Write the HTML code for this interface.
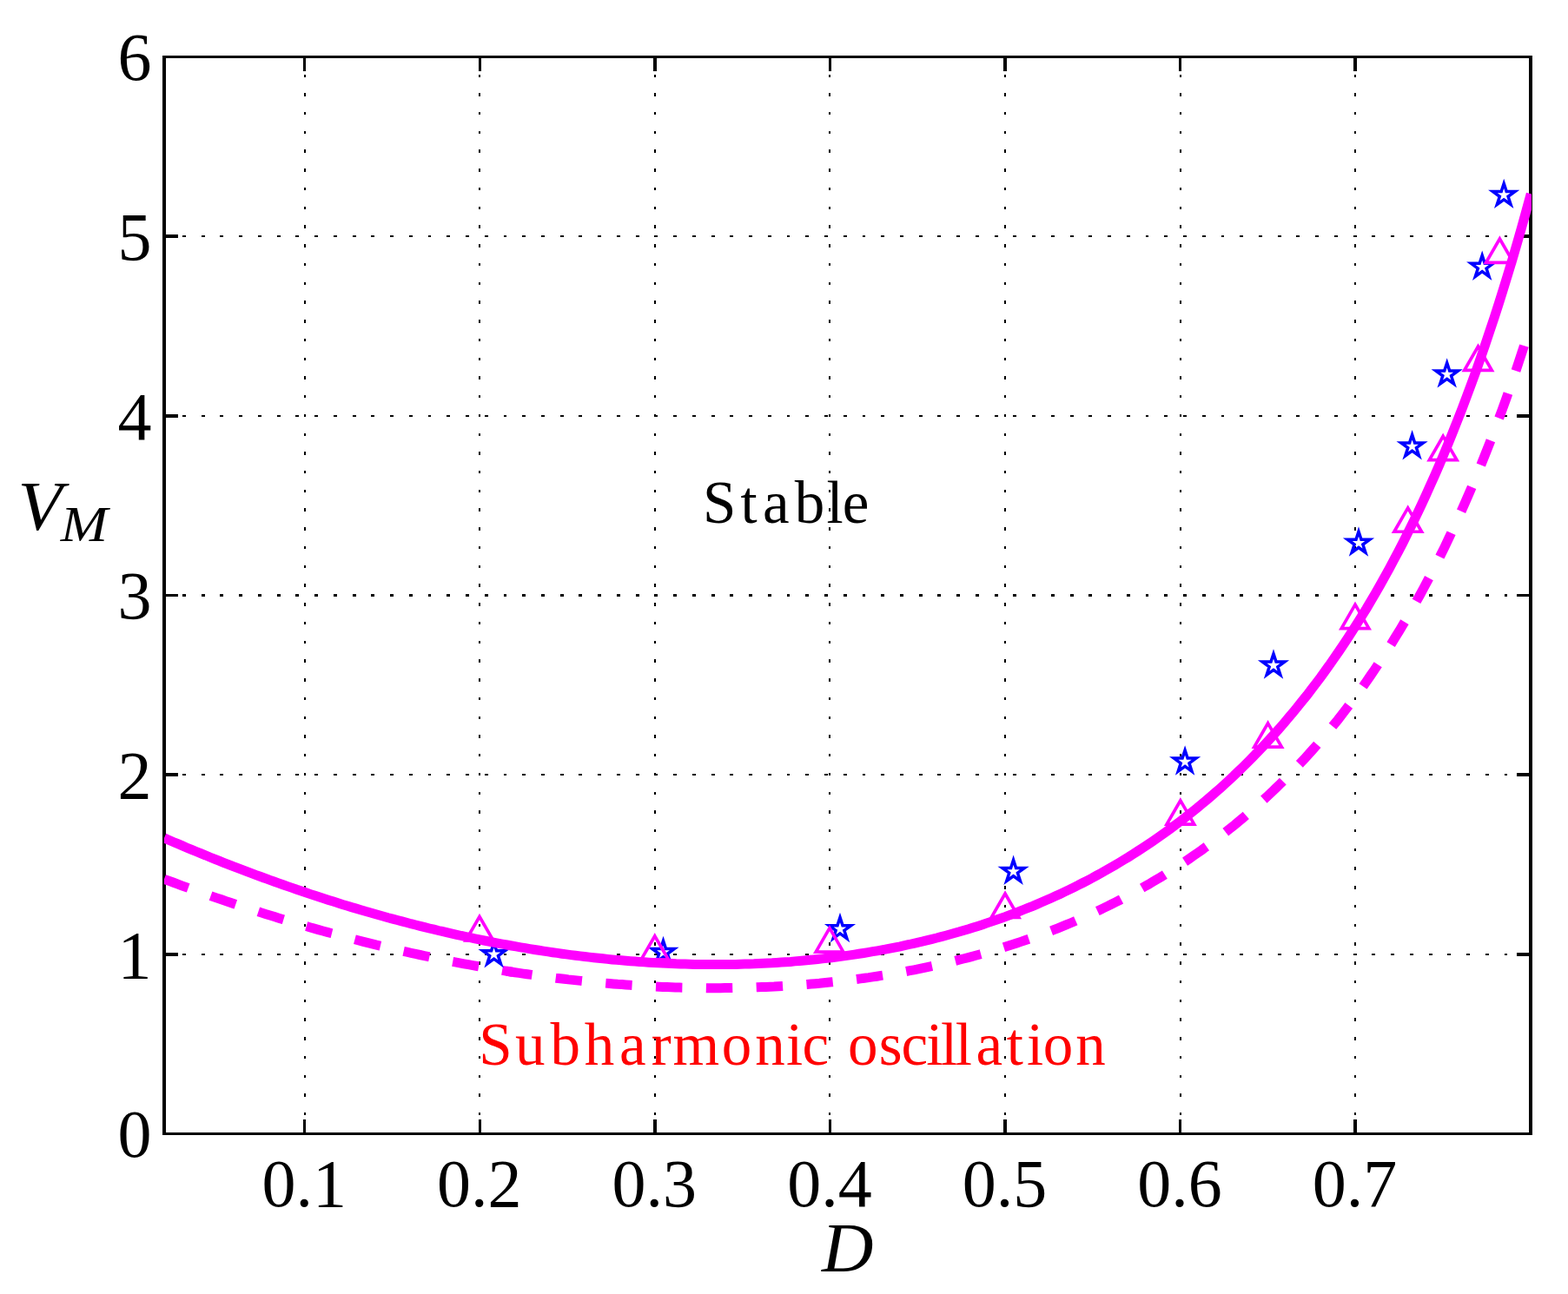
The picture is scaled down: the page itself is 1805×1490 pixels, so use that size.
<!DOCTYPE html>
<html><head><meta charset="utf-8"><title>V_M versus D</title>
<style>html,body{margin:0;padding:0;background:#fff}body{width:1805px;height:1490px;overflow:hidden}svg{display:block}text{font-family:"Liberation Serif","DejaVu Serif",serif}</style></head><body>
<svg width="1805" height="1490" viewBox="0 0 1805 1490">
<rect width="1805" height="1490" fill="#fff"/>
<text x="808.99 852.58 877.95 914.86 951.56 969.79" y="602.30" font-size="69.00" fill="#000">Stable</text>
<g fill="#000" shape-rendering="crispEdges"><rect x="187" y="64" width="4" height="1243"/><rect x="1760" y="64" width="4" height="1243"/><rect x="187" y="64" width="1577" height="3"/><rect x="187" y="1304" width="1577" height="3"/><rect x="349" y="1289" width="3" height="15"/><rect x="349" y="67" width="3" height="15"/><rect x="551" y="1289" width="3" height="15"/><rect x="551" y="67" width="3" height="15"/><rect x="752" y="1289" width="4" height="15"/><rect x="752" y="67" width="4" height="15"/><rect x="954" y="1289" width="3" height="15"/><rect x="954" y="67" width="3" height="15"/><rect x="1155" y="1289" width="4" height="15"/><rect x="1155" y="67" width="4" height="15"/><rect x="1357" y="1289" width="3" height="15"/><rect x="1357" y="67" width="3" height="15"/><rect x="1558" y="1289" width="4" height="15"/><rect x="1558" y="67" width="4" height="15"/><rect x="191" y="1097" width="14" height="4"/><rect x="1746" y="1097" width="14" height="4"/><rect x="191" y="890" width="14" height="4"/><rect x="1746" y="890" width="14" height="4"/><rect x="191" y="684" width="14" height="3"/><rect x="1746" y="684" width="14" height="3"/><rect x="191" y="477" width="14" height="4"/><rect x="1746" y="477" width="14" height="4"/><rect x="191" y="270" width="14" height="4"/><rect x="1746" y="270" width="14" height="4"/></g>
<g fill="#000" shape-rendering="crispEdges"><rect x="350" y="86" width="2" height="3"/><rect x="350" y="107" width="2" height="4"/><rect x="350" y="129" width="2" height="3"/><rect x="350" y="151" width="2" height="3"/><rect x="350" y="172" width="2" height="4"/><rect x="350" y="194" width="2" height="4"/><rect x="350" y="216" width="2" height="3"/><rect x="350" y="238" width="2" height="3"/><rect x="350" y="259" width="2" height="4"/><rect x="350" y="281" width="2" height="4"/><rect x="350" y="303" width="2" height="3"/><rect x="350" y="325" width="2" height="3"/><rect x="350" y="346" width="2" height="4"/><rect x="350" y="368" width="2" height="4"/><rect x="350" y="390" width="2" height="3"/><rect x="350" y="412" width="2" height="3"/><rect x="350" y="433" width="2" height="4"/><rect x="350" y="455" width="2" height="3"/><rect x="350" y="477" width="2" height="3"/><rect x="350" y="499" width="2" height="3"/><rect x="350" y="520" width="2" height="4"/><rect x="350" y="542" width="2" height="3"/><rect x="350" y="564" width="2" height="3"/><rect x="350" y="585" width="2" height="4"/><rect x="350" y="607" width="2" height="4"/><rect x="350" y="629" width="2" height="3"/><rect x="350" y="651" width="2" height="3"/><rect x="350" y="672" width="2" height="4"/><rect x="350" y="694" width="2" height="4"/><rect x="350" y="716" width="2" height="3"/><rect x="350" y="738" width="2" height="3"/><rect x="350" y="759" width="2" height="4"/><rect x="350" y="781" width="2" height="4"/><rect x="350" y="803" width="2" height="3"/><rect x="350" y="825" width="2" height="3"/><rect x="350" y="846" width="2" height="4"/><rect x="350" y="868" width="2" height="3"/><rect x="350" y="890" width="2" height="3"/><rect x="350" y="912" width="2" height="3"/><rect x="350" y="933" width="2" height="4"/><rect x="350" y="955" width="2" height="3"/><rect x="350" y="977" width="2" height="3"/><rect x="350" y="998" width="2" height="4"/><rect x="350" y="1020" width="2" height="4"/><rect x="350" y="1042" width="2" height="3"/><rect x="350" y="1064" width="2" height="3"/><rect x="350" y="1085" width="2" height="4"/><rect x="350" y="1107" width="2" height="4"/><rect x="350" y="1129" width="2" height="3"/><rect x="350" y="1151" width="2" height="3"/><rect x="350" y="1172" width="2" height="4"/><rect x="350" y="1194" width="2" height="4"/><rect x="350" y="1216" width="2" height="3"/><rect x="350" y="1238" width="2" height="3"/><rect x="350" y="1259" width="2" height="4"/><rect x="350" y="1281" width="2" height="3"/><rect x="551" y="86" width="2" height="3"/><rect x="551" y="107" width="2" height="4"/><rect x="551" y="129" width="2" height="3"/><rect x="551" y="151" width="2" height="3"/><rect x="551" y="172" width="2" height="4"/><rect x="551" y="194" width="2" height="4"/><rect x="551" y="216" width="2" height="3"/><rect x="551" y="238" width="2" height="3"/><rect x="551" y="259" width="2" height="4"/><rect x="551" y="281" width="2" height="4"/><rect x="551" y="303" width="2" height="3"/><rect x="551" y="325" width="2" height="3"/><rect x="551" y="346" width="2" height="4"/><rect x="551" y="368" width="2" height="4"/><rect x="551" y="390" width="2" height="3"/><rect x="551" y="412" width="2" height="3"/><rect x="551" y="433" width="2" height="4"/><rect x="551" y="455" width="2" height="3"/><rect x="551" y="477" width="2" height="3"/><rect x="551" y="499" width="2" height="3"/><rect x="551" y="520" width="2" height="4"/><rect x="551" y="542" width="2" height="3"/><rect x="551" y="564" width="2" height="3"/><rect x="551" y="585" width="2" height="4"/><rect x="551" y="607" width="2" height="4"/><rect x="551" y="629" width="2" height="3"/><rect x="551" y="651" width="2" height="3"/><rect x="551" y="672" width="2" height="4"/><rect x="551" y="694" width="2" height="4"/><rect x="551" y="716" width="2" height="3"/><rect x="551" y="738" width="2" height="3"/><rect x="551" y="759" width="2" height="4"/><rect x="551" y="781" width="2" height="4"/><rect x="551" y="803" width="2" height="3"/><rect x="551" y="825" width="2" height="3"/><rect x="551" y="846" width="2" height="4"/><rect x="551" y="868" width="2" height="3"/><rect x="551" y="890" width="2" height="3"/><rect x="551" y="912" width="2" height="3"/><rect x="551" y="933" width="2" height="4"/><rect x="551" y="955" width="2" height="3"/><rect x="551" y="977" width="2" height="3"/><rect x="551" y="998" width="2" height="4"/><rect x="551" y="1020" width="2" height="4"/><rect x="551" y="1042" width="2" height="3"/><rect x="551" y="1064" width="2" height="3"/><rect x="551" y="1085" width="2" height="4"/><rect x="551" y="1107" width="2" height="4"/><rect x="551" y="1129" width="2" height="3"/><rect x="551" y="1151" width="2" height="3"/><rect x="551" y="1172" width="2" height="4"/><rect x="551" y="1194" width="2" height="4"/><rect x="551" y="1216" width="2" height="3"/><rect x="551" y="1238" width="2" height="3"/><rect x="551" y="1259" width="2" height="4"/><rect x="551" y="1281" width="2" height="3"/><rect x="753" y="86" width="2" height="3"/><rect x="753" y="107" width="2" height="4"/><rect x="753" y="129" width="2" height="3"/><rect x="753" y="151" width="2" height="3"/><rect x="753" y="172" width="2" height="4"/><rect x="753" y="194" width="2" height="4"/><rect x="753" y="216" width="2" height="3"/><rect x="753" y="238" width="2" height="3"/><rect x="753" y="259" width="2" height="4"/><rect x="753" y="281" width="2" height="4"/><rect x="753" y="303" width="2" height="3"/><rect x="753" y="325" width="2" height="3"/><rect x="753" y="346" width="2" height="4"/><rect x="753" y="368" width="2" height="4"/><rect x="753" y="390" width="2" height="3"/><rect x="753" y="412" width="2" height="3"/><rect x="753" y="433" width="2" height="4"/><rect x="753" y="455" width="2" height="3"/><rect x="753" y="477" width="2" height="3"/><rect x="753" y="499" width="2" height="3"/><rect x="753" y="520" width="2" height="4"/><rect x="753" y="542" width="2" height="3"/><rect x="753" y="564" width="2" height="3"/><rect x="753" y="585" width="2" height="4"/><rect x="753" y="607" width="2" height="4"/><rect x="753" y="629" width="2" height="3"/><rect x="753" y="651" width="2" height="3"/><rect x="753" y="672" width="2" height="4"/><rect x="753" y="694" width="2" height="4"/><rect x="753" y="716" width="2" height="3"/><rect x="753" y="738" width="2" height="3"/><rect x="753" y="759" width="2" height="4"/><rect x="753" y="781" width="2" height="4"/><rect x="753" y="803" width="2" height="3"/><rect x="753" y="825" width="2" height="3"/><rect x="753" y="846" width="2" height="4"/><rect x="753" y="868" width="2" height="3"/><rect x="753" y="890" width="2" height="3"/><rect x="753" y="912" width="2" height="3"/><rect x="753" y="933" width="2" height="4"/><rect x="753" y="955" width="2" height="3"/><rect x="753" y="977" width="2" height="3"/><rect x="753" y="998" width="2" height="4"/><rect x="753" y="1020" width="2" height="4"/><rect x="753" y="1042" width="2" height="3"/><rect x="753" y="1064" width="2" height="3"/><rect x="753" y="1085" width="2" height="4"/><rect x="753" y="1107" width="2" height="4"/><rect x="753" y="1129" width="2" height="3"/><rect x="753" y="1151" width="2" height="3"/><rect x="753" y="1172" width="2" height="4"/><rect x="753" y="1194" width="2" height="4"/><rect x="753" y="1216" width="2" height="3"/><rect x="753" y="1238" width="2" height="3"/><rect x="753" y="1259" width="2" height="4"/><rect x="753" y="1281" width="2" height="3"/><rect x="954" y="86" width="2" height="3"/><rect x="954" y="107" width="2" height="4"/><rect x="954" y="129" width="2" height="3"/><rect x="954" y="151" width="2" height="3"/><rect x="954" y="172" width="2" height="4"/><rect x="954" y="194" width="2" height="4"/><rect x="954" y="216" width="2" height="3"/><rect x="954" y="238" width="2" height="3"/><rect x="954" y="259" width="2" height="4"/><rect x="954" y="281" width="2" height="4"/><rect x="954" y="303" width="2" height="3"/><rect x="954" y="325" width="2" height="3"/><rect x="954" y="346" width="2" height="4"/><rect x="954" y="368" width="2" height="4"/><rect x="954" y="390" width="2" height="3"/><rect x="954" y="412" width="2" height="3"/><rect x="954" y="433" width="2" height="4"/><rect x="954" y="455" width="2" height="3"/><rect x="954" y="477" width="2" height="3"/><rect x="954" y="499" width="2" height="3"/><rect x="954" y="520" width="2" height="4"/><rect x="954" y="542" width="2" height="3"/><rect x="954" y="564" width="2" height="3"/><rect x="954" y="585" width="2" height="4"/><rect x="954" y="607" width="2" height="4"/><rect x="954" y="629" width="2" height="3"/><rect x="954" y="651" width="2" height="3"/><rect x="954" y="672" width="2" height="4"/><rect x="954" y="694" width="2" height="4"/><rect x="954" y="716" width="2" height="3"/><rect x="954" y="738" width="2" height="3"/><rect x="954" y="759" width="2" height="4"/><rect x="954" y="781" width="2" height="4"/><rect x="954" y="803" width="2" height="3"/><rect x="954" y="825" width="2" height="3"/><rect x="954" y="846" width="2" height="4"/><rect x="954" y="868" width="2" height="3"/><rect x="954" y="890" width="2" height="3"/><rect x="954" y="912" width="2" height="3"/><rect x="954" y="933" width="2" height="4"/><rect x="954" y="955" width="2" height="3"/><rect x="954" y="977" width="2" height="3"/><rect x="954" y="998" width="2" height="4"/><rect x="954" y="1020" width="2" height="4"/><rect x="954" y="1042" width="2" height="3"/><rect x="954" y="1064" width="2" height="3"/><rect x="954" y="1085" width="2" height="4"/><rect x="954" y="1107" width="2" height="4"/><rect x="954" y="1129" width="2" height="3"/><rect x="954" y="1151" width="2" height="3"/><rect x="954" y="1172" width="2" height="4"/><rect x="954" y="1194" width="2" height="4"/><rect x="954" y="1216" width="2" height="3"/><rect x="954" y="1238" width="2" height="3"/><rect x="954" y="1259" width="2" height="4"/><rect x="954" y="1281" width="2" height="3"/><rect x="1156" y="86" width="2" height="3"/><rect x="1156" y="107" width="2" height="4"/><rect x="1156" y="129" width="2" height="3"/><rect x="1156" y="151" width="2" height="3"/><rect x="1156" y="172" width="2" height="4"/><rect x="1156" y="194" width="2" height="4"/><rect x="1156" y="216" width="2" height="3"/><rect x="1156" y="238" width="2" height="3"/><rect x="1156" y="259" width="2" height="4"/><rect x="1156" y="281" width="2" height="4"/><rect x="1156" y="303" width="2" height="3"/><rect x="1156" y="325" width="2" height="3"/><rect x="1156" y="346" width="2" height="4"/><rect x="1156" y="368" width="2" height="4"/><rect x="1156" y="390" width="2" height="3"/><rect x="1156" y="412" width="2" height="3"/><rect x="1156" y="433" width="2" height="4"/><rect x="1156" y="455" width="2" height="3"/><rect x="1156" y="477" width="2" height="3"/><rect x="1156" y="499" width="2" height="3"/><rect x="1156" y="520" width="2" height="4"/><rect x="1156" y="542" width="2" height="3"/><rect x="1156" y="564" width="2" height="3"/><rect x="1156" y="585" width="2" height="4"/><rect x="1156" y="607" width="2" height="4"/><rect x="1156" y="629" width="2" height="3"/><rect x="1156" y="651" width="2" height="3"/><rect x="1156" y="672" width="2" height="4"/><rect x="1156" y="694" width="2" height="4"/><rect x="1156" y="716" width="2" height="3"/><rect x="1156" y="738" width="2" height="3"/><rect x="1156" y="759" width="2" height="4"/><rect x="1156" y="781" width="2" height="4"/><rect x="1156" y="803" width="2" height="3"/><rect x="1156" y="825" width="2" height="3"/><rect x="1156" y="846" width="2" height="4"/><rect x="1156" y="868" width="2" height="3"/><rect x="1156" y="890" width="2" height="3"/><rect x="1156" y="912" width="2" height="3"/><rect x="1156" y="933" width="2" height="4"/><rect x="1156" y="955" width="2" height="3"/><rect x="1156" y="977" width="2" height="3"/><rect x="1156" y="998" width="2" height="4"/><rect x="1156" y="1020" width="2" height="4"/><rect x="1156" y="1042" width="2" height="3"/><rect x="1156" y="1064" width="2" height="3"/><rect x="1156" y="1085" width="2" height="4"/><rect x="1156" y="1107" width="2" height="4"/><rect x="1156" y="1129" width="2" height="3"/><rect x="1156" y="1151" width="2" height="3"/><rect x="1156" y="1172" width="2" height="4"/><rect x="1156" y="1194" width="2" height="4"/><rect x="1156" y="1216" width="2" height="3"/><rect x="1156" y="1238" width="2" height="3"/><rect x="1156" y="1259" width="2" height="4"/><rect x="1156" y="1281" width="2" height="3"/><rect x="1358" y="86" width="2" height="3"/><rect x="1358" y="107" width="2" height="4"/><rect x="1358" y="129" width="2" height="3"/><rect x="1358" y="151" width="2" height="3"/><rect x="1358" y="172" width="2" height="4"/><rect x="1358" y="194" width="2" height="4"/><rect x="1358" y="216" width="2" height="3"/><rect x="1358" y="238" width="2" height="3"/><rect x="1358" y="259" width="2" height="4"/><rect x="1358" y="281" width="2" height="4"/><rect x="1358" y="303" width="2" height="3"/><rect x="1358" y="325" width="2" height="3"/><rect x="1358" y="346" width="2" height="4"/><rect x="1358" y="368" width="2" height="4"/><rect x="1358" y="390" width="2" height="3"/><rect x="1358" y="412" width="2" height="3"/><rect x="1358" y="433" width="2" height="4"/><rect x="1358" y="455" width="2" height="3"/><rect x="1358" y="477" width="2" height="3"/><rect x="1358" y="499" width="2" height="3"/><rect x="1358" y="520" width="2" height="4"/><rect x="1358" y="542" width="2" height="3"/><rect x="1358" y="564" width="2" height="3"/><rect x="1358" y="585" width="2" height="4"/><rect x="1358" y="607" width="2" height="4"/><rect x="1358" y="629" width="2" height="3"/><rect x="1358" y="651" width="2" height="3"/><rect x="1358" y="672" width="2" height="4"/><rect x="1358" y="694" width="2" height="4"/><rect x="1358" y="716" width="2" height="3"/><rect x="1358" y="738" width="2" height="3"/><rect x="1358" y="759" width="2" height="4"/><rect x="1358" y="781" width="2" height="4"/><rect x="1358" y="803" width="2" height="3"/><rect x="1358" y="825" width="2" height="3"/><rect x="1358" y="846" width="2" height="4"/><rect x="1358" y="868" width="2" height="3"/><rect x="1358" y="890" width="2" height="3"/><rect x="1358" y="912" width="2" height="3"/><rect x="1358" y="933" width="2" height="4"/><rect x="1358" y="955" width="2" height="3"/><rect x="1358" y="977" width="2" height="3"/><rect x="1358" y="998" width="2" height="4"/><rect x="1358" y="1020" width="2" height="4"/><rect x="1358" y="1042" width="2" height="3"/><rect x="1358" y="1064" width="2" height="3"/><rect x="1358" y="1085" width="2" height="4"/><rect x="1358" y="1107" width="2" height="4"/><rect x="1358" y="1129" width="2" height="3"/><rect x="1358" y="1151" width="2" height="3"/><rect x="1358" y="1172" width="2" height="4"/><rect x="1358" y="1194" width="2" height="4"/><rect x="1358" y="1216" width="2" height="3"/><rect x="1358" y="1238" width="2" height="3"/><rect x="1358" y="1259" width="2" height="4"/><rect x="1358" y="1281" width="2" height="3"/><rect x="1559" y="86" width="2" height="3"/><rect x="1559" y="107" width="2" height="4"/><rect x="1559" y="129" width="2" height="3"/><rect x="1559" y="151" width="2" height="3"/><rect x="1559" y="172" width="2" height="4"/><rect x="1559" y="194" width="2" height="4"/><rect x="1559" y="216" width="2" height="3"/><rect x="1559" y="238" width="2" height="3"/><rect x="1559" y="259" width="2" height="4"/><rect x="1559" y="281" width="2" height="4"/><rect x="1559" y="303" width="2" height="3"/><rect x="1559" y="325" width="2" height="3"/><rect x="1559" y="346" width="2" height="4"/><rect x="1559" y="368" width="2" height="4"/><rect x="1559" y="390" width="2" height="3"/><rect x="1559" y="412" width="2" height="3"/><rect x="1559" y="433" width="2" height="4"/><rect x="1559" y="455" width="2" height="3"/><rect x="1559" y="477" width="2" height="3"/><rect x="1559" y="499" width="2" height="3"/><rect x="1559" y="520" width="2" height="4"/><rect x="1559" y="542" width="2" height="3"/><rect x="1559" y="564" width="2" height="3"/><rect x="1559" y="585" width="2" height="4"/><rect x="1559" y="607" width="2" height="4"/><rect x="1559" y="629" width="2" height="3"/><rect x="1559" y="651" width="2" height="3"/><rect x="1559" y="672" width="2" height="4"/><rect x="1559" y="694" width="2" height="4"/><rect x="1559" y="716" width="2" height="3"/><rect x="1559" y="738" width="2" height="3"/><rect x="1559" y="759" width="2" height="4"/><rect x="1559" y="781" width="2" height="4"/><rect x="1559" y="803" width="2" height="3"/><rect x="1559" y="825" width="2" height="3"/><rect x="1559" y="846" width="2" height="4"/><rect x="1559" y="868" width="2" height="3"/><rect x="1559" y="890" width="2" height="3"/><rect x="1559" y="912" width="2" height="3"/><rect x="1559" y="933" width="2" height="4"/><rect x="1559" y="955" width="2" height="3"/><rect x="1559" y="977" width="2" height="3"/><rect x="1559" y="998" width="2" height="4"/><rect x="1559" y="1020" width="2" height="4"/><rect x="1559" y="1042" width="2" height="3"/><rect x="1559" y="1064" width="2" height="3"/><rect x="1559" y="1085" width="2" height="4"/><rect x="1559" y="1107" width="2" height="4"/><rect x="1559" y="1129" width="2" height="3"/><rect x="1559" y="1151" width="2" height="3"/><rect x="1559" y="1172" width="2" height="4"/><rect x="1559" y="1194" width="2" height="4"/><rect x="1559" y="1216" width="2" height="3"/><rect x="1559" y="1238" width="2" height="3"/><rect x="1559" y="1259" width="2" height="4"/><rect x="1559" y="1281" width="2" height="3"/><rect x="210" y="1098" width="4" height="2"/><rect x="232" y="1098" width="4" height="2"/><rect x="253" y="1098" width="4" height="2"/><rect x="275" y="1098" width="4" height="2"/><rect x="297" y="1098" width="4" height="2"/><rect x="319" y="1098" width="4" height="2"/><rect x="340" y="1098" width="4" height="2"/><rect x="362" y="1098" width="4" height="2"/><rect x="384" y="1098" width="4" height="2"/><rect x="406" y="1098" width="4" height="2"/><rect x="427" y="1098" width="4" height="2"/><rect x="449" y="1098" width="4" height="2"/><rect x="471" y="1098" width="4" height="2"/><rect x="493" y="1098" width="3" height="2"/><rect x="514" y="1098" width="4" height="2"/><rect x="536" y="1098" width="4" height="2"/><rect x="558" y="1098" width="4" height="2"/><rect x="580" y="1098" width="3" height="2"/><rect x="601" y="1098" width="4" height="2"/><rect x="623" y="1098" width="4" height="2"/><rect x="645" y="1098" width="4" height="2"/><rect x="666" y="1098" width="4" height="2"/><rect x="688" y="1098" width="4" height="2"/><rect x="710" y="1098" width="4" height="2"/><rect x="732" y="1098" width="4" height="2"/><rect x="753" y="1098" width="4" height="2"/><rect x="775" y="1098" width="4" height="2"/><rect x="797" y="1098" width="4" height="2"/><rect x="819" y="1098" width="4" height="2"/><rect x="840" y="1098" width="4" height="2"/><rect x="862" y="1098" width="4" height="2"/><rect x="884" y="1098" width="4" height="2"/><rect x="906" y="1098" width="3" height="2"/><rect x="927" y="1098" width="4" height="2"/><rect x="949" y="1098" width="4" height="2"/><rect x="971" y="1098" width="4" height="2"/><rect x="993" y="1098" width="3" height="2"/><rect x="1014" y="1098" width="4" height="2"/><rect x="1036" y="1098" width="4" height="2"/><rect x="1058" y="1098" width="4" height="2"/><rect x="1079" y="1098" width="4" height="2"/><rect x="1101" y="1098" width="4" height="2"/><rect x="1123" y="1098" width="4" height="2"/><rect x="1145" y="1098" width="4" height="2"/><rect x="1166" y="1098" width="4" height="2"/><rect x="1188" y="1098" width="4" height="2"/><rect x="1210" y="1098" width="4" height="2"/><rect x="1232" y="1098" width="4" height="2"/><rect x="1253" y="1098" width="4" height="2"/><rect x="1275" y="1098" width="4" height="2"/><rect x="1297" y="1098" width="4" height="2"/><rect x="1319" y="1098" width="3" height="2"/><rect x="1340" y="1098" width="4" height="2"/><rect x="1362" y="1098" width="4" height="2"/><rect x="1384" y="1098" width="4" height="2"/><rect x="1406" y="1098" width="3" height="2"/><rect x="1427" y="1098" width="4" height="2"/><rect x="1449" y="1098" width="4" height="2"/><rect x="1471" y="1098" width="4" height="2"/><rect x="1492" y="1098" width="4" height="2"/><rect x="1514" y="1098" width="4" height="2"/><rect x="1536" y="1098" width="4" height="2"/><rect x="1558" y="1098" width="4" height="2"/><rect x="1579" y="1098" width="4" height="2"/><rect x="1601" y="1098" width="4" height="2"/><rect x="1623" y="1098" width="4" height="2"/><rect x="1645" y="1098" width="4" height="2"/><rect x="1666" y="1098" width="4" height="2"/><rect x="1688" y="1098" width="4" height="2"/><rect x="1710" y="1098" width="4" height="2"/><rect x="1732" y="1098" width="3" height="2"/><rect x="1753" y="1098" width="4" height="2"/><rect x="210" y="891" width="4" height="2"/><rect x="232" y="891" width="4" height="2"/><rect x="253" y="891" width="4" height="2"/><rect x="275" y="891" width="4" height="2"/><rect x="297" y="891" width="4" height="2"/><rect x="319" y="891" width="4" height="2"/><rect x="340" y="891" width="4" height="2"/><rect x="362" y="891" width="4" height="2"/><rect x="384" y="891" width="4" height="2"/><rect x="406" y="891" width="4" height="2"/><rect x="427" y="891" width="4" height="2"/><rect x="449" y="891" width="4" height="2"/><rect x="471" y="891" width="4" height="2"/><rect x="493" y="891" width="3" height="2"/><rect x="514" y="891" width="4" height="2"/><rect x="536" y="891" width="4" height="2"/><rect x="558" y="891" width="4" height="2"/><rect x="580" y="891" width="3" height="2"/><rect x="601" y="891" width="4" height="2"/><rect x="623" y="891" width="4" height="2"/><rect x="645" y="891" width="4" height="2"/><rect x="666" y="891" width="4" height="2"/><rect x="688" y="891" width="4" height="2"/><rect x="710" y="891" width="4" height="2"/><rect x="732" y="891" width="4" height="2"/><rect x="753" y="891" width="4" height="2"/><rect x="775" y="891" width="4" height="2"/><rect x="797" y="891" width="4" height="2"/><rect x="819" y="891" width="4" height="2"/><rect x="840" y="891" width="4" height="2"/><rect x="862" y="891" width="4" height="2"/><rect x="884" y="891" width="4" height="2"/><rect x="906" y="891" width="3" height="2"/><rect x="927" y="891" width="4" height="2"/><rect x="949" y="891" width="4" height="2"/><rect x="971" y="891" width="4" height="2"/><rect x="993" y="891" width="3" height="2"/><rect x="1014" y="891" width="4" height="2"/><rect x="1036" y="891" width="4" height="2"/><rect x="1058" y="891" width="4" height="2"/><rect x="1079" y="891" width="4" height="2"/><rect x="1101" y="891" width="4" height="2"/><rect x="1123" y="891" width="4" height="2"/><rect x="1145" y="891" width="4" height="2"/><rect x="1166" y="891" width="4" height="2"/><rect x="1188" y="891" width="4" height="2"/><rect x="1210" y="891" width="4" height="2"/><rect x="1232" y="891" width="4" height="2"/><rect x="1253" y="891" width="4" height="2"/><rect x="1275" y="891" width="4" height="2"/><rect x="1297" y="891" width="4" height="2"/><rect x="1319" y="891" width="3" height="2"/><rect x="1340" y="891" width="4" height="2"/><rect x="1362" y="891" width="4" height="2"/><rect x="1384" y="891" width="4" height="2"/><rect x="1406" y="891" width="3" height="2"/><rect x="1427" y="891" width="4" height="2"/><rect x="1449" y="891" width="4" height="2"/><rect x="1471" y="891" width="4" height="2"/><rect x="1492" y="891" width="4" height="2"/><rect x="1514" y="891" width="4" height="2"/><rect x="1536" y="891" width="4" height="2"/><rect x="1558" y="891" width="4" height="2"/><rect x="1579" y="891" width="4" height="2"/><rect x="1601" y="891" width="4" height="2"/><rect x="1623" y="891" width="4" height="2"/><rect x="1645" y="891" width="4" height="2"/><rect x="1666" y="891" width="4" height="2"/><rect x="1688" y="891" width="4" height="2"/><rect x="1710" y="891" width="4" height="2"/><rect x="1732" y="891" width="3" height="2"/><rect x="1753" y="891" width="4" height="2"/><rect x="210" y="684" width="4" height="3"/><rect x="232" y="684" width="4" height="3"/><rect x="253" y="684" width="4" height="3"/><rect x="275" y="684" width="4" height="3"/><rect x="297" y="684" width="4" height="3"/><rect x="319" y="684" width="4" height="3"/><rect x="340" y="684" width="4" height="3"/><rect x="362" y="684" width="4" height="3"/><rect x="384" y="684" width="4" height="3"/><rect x="406" y="684" width="4" height="3"/><rect x="427" y="684" width="4" height="3"/><rect x="449" y="684" width="4" height="3"/><rect x="471" y="684" width="4" height="3"/><rect x="493" y="684" width="3" height="3"/><rect x="514" y="684" width="4" height="3"/><rect x="536" y="684" width="4" height="3"/><rect x="558" y="684" width="4" height="3"/><rect x="580" y="684" width="3" height="3"/><rect x="601" y="684" width="4" height="3"/><rect x="623" y="684" width="4" height="3"/><rect x="645" y="684" width="4" height="3"/><rect x="666" y="684" width="4" height="3"/><rect x="688" y="684" width="4" height="3"/><rect x="710" y="684" width="4" height="3"/><rect x="732" y="684" width="4" height="3"/><rect x="753" y="684" width="4" height="3"/><rect x="775" y="684" width="4" height="3"/><rect x="797" y="684" width="4" height="3"/><rect x="819" y="684" width="4" height="3"/><rect x="840" y="684" width="4" height="3"/><rect x="862" y="684" width="4" height="3"/><rect x="884" y="684" width="4" height="3"/><rect x="906" y="684" width="3" height="3"/><rect x="927" y="684" width="4" height="3"/><rect x="949" y="684" width="4" height="3"/><rect x="971" y="684" width="4" height="3"/><rect x="993" y="684" width="3" height="3"/><rect x="1014" y="684" width="4" height="3"/><rect x="1036" y="684" width="4" height="3"/><rect x="1058" y="684" width="4" height="3"/><rect x="1079" y="684" width="4" height="3"/><rect x="1101" y="684" width="4" height="3"/><rect x="1123" y="684" width="4" height="3"/><rect x="1145" y="684" width="4" height="3"/><rect x="1166" y="684" width="4" height="3"/><rect x="1188" y="684" width="4" height="3"/><rect x="1210" y="684" width="4" height="3"/><rect x="1232" y="684" width="4" height="3"/><rect x="1253" y="684" width="4" height="3"/><rect x="1275" y="684" width="4" height="3"/><rect x="1297" y="684" width="4" height="3"/><rect x="1319" y="684" width="3" height="3"/><rect x="1340" y="684" width="4" height="3"/><rect x="1362" y="684" width="4" height="3"/><rect x="1384" y="684" width="4" height="3"/><rect x="1406" y="684" width="3" height="3"/><rect x="1427" y="684" width="4" height="3"/><rect x="1449" y="684" width="4" height="3"/><rect x="1471" y="684" width="4" height="3"/><rect x="1492" y="684" width="4" height="3"/><rect x="1514" y="684" width="4" height="3"/><rect x="1536" y="684" width="4" height="3"/><rect x="1558" y="684" width="4" height="3"/><rect x="1579" y="684" width="4" height="3"/><rect x="1601" y="684" width="4" height="3"/><rect x="1623" y="684" width="4" height="3"/><rect x="1645" y="684" width="4" height="3"/><rect x="1666" y="684" width="4" height="3"/><rect x="1688" y="684" width="4" height="3"/><rect x="1710" y="684" width="4" height="3"/><rect x="1732" y="684" width="3" height="3"/><rect x="1753" y="684" width="4" height="3"/><rect x="210" y="478" width="4" height="2"/><rect x="232" y="478" width="4" height="2"/><rect x="253" y="478" width="4" height="2"/><rect x="275" y="478" width="4" height="2"/><rect x="297" y="478" width="4" height="2"/><rect x="319" y="478" width="4" height="2"/><rect x="340" y="478" width="4" height="2"/><rect x="362" y="478" width="4" height="2"/><rect x="384" y="478" width="4" height="2"/><rect x="406" y="478" width="4" height="2"/><rect x="427" y="478" width="4" height="2"/><rect x="449" y="478" width="4" height="2"/><rect x="471" y="478" width="4" height="2"/><rect x="493" y="478" width="3" height="2"/><rect x="514" y="478" width="4" height="2"/><rect x="536" y="478" width="4" height="2"/><rect x="558" y="478" width="4" height="2"/><rect x="580" y="478" width="3" height="2"/><rect x="601" y="478" width="4" height="2"/><rect x="623" y="478" width="4" height="2"/><rect x="645" y="478" width="4" height="2"/><rect x="666" y="478" width="4" height="2"/><rect x="688" y="478" width="4" height="2"/><rect x="710" y="478" width="4" height="2"/><rect x="732" y="478" width="4" height="2"/><rect x="753" y="478" width="4" height="2"/><rect x="775" y="478" width="4" height="2"/><rect x="797" y="478" width="4" height="2"/><rect x="819" y="478" width="4" height="2"/><rect x="840" y="478" width="4" height="2"/><rect x="862" y="478" width="4" height="2"/><rect x="884" y="478" width="4" height="2"/><rect x="906" y="478" width="3" height="2"/><rect x="927" y="478" width="4" height="2"/><rect x="949" y="478" width="4" height="2"/><rect x="971" y="478" width="4" height="2"/><rect x="993" y="478" width="3" height="2"/><rect x="1014" y="478" width="4" height="2"/><rect x="1036" y="478" width="4" height="2"/><rect x="1058" y="478" width="4" height="2"/><rect x="1079" y="478" width="4" height="2"/><rect x="1101" y="478" width="4" height="2"/><rect x="1123" y="478" width="4" height="2"/><rect x="1145" y="478" width="4" height="2"/><rect x="1166" y="478" width="4" height="2"/><rect x="1188" y="478" width="4" height="2"/><rect x="1210" y="478" width="4" height="2"/><rect x="1232" y="478" width="4" height="2"/><rect x="1253" y="478" width="4" height="2"/><rect x="1275" y="478" width="4" height="2"/><rect x="1297" y="478" width="4" height="2"/><rect x="1319" y="478" width="3" height="2"/><rect x="1340" y="478" width="4" height="2"/><rect x="1362" y="478" width="4" height="2"/><rect x="1384" y="478" width="4" height="2"/><rect x="1406" y="478" width="3" height="2"/><rect x="1427" y="478" width="4" height="2"/><rect x="1449" y="478" width="4" height="2"/><rect x="1471" y="478" width="4" height="2"/><rect x="1492" y="478" width="4" height="2"/><rect x="1514" y="478" width="4" height="2"/><rect x="1536" y="478" width="4" height="2"/><rect x="1558" y="478" width="4" height="2"/><rect x="1579" y="478" width="4" height="2"/><rect x="1601" y="478" width="4" height="2"/><rect x="1623" y="478" width="4" height="2"/><rect x="1645" y="478" width="4" height="2"/><rect x="1666" y="478" width="4" height="2"/><rect x="1688" y="478" width="4" height="2"/><rect x="1710" y="478" width="4" height="2"/><rect x="1732" y="478" width="3" height="2"/><rect x="1753" y="478" width="4" height="2"/><rect x="210" y="271" width="4" height="2"/><rect x="232" y="271" width="4" height="2"/><rect x="253" y="271" width="4" height="2"/><rect x="275" y="271" width="4" height="2"/><rect x="297" y="271" width="4" height="2"/><rect x="319" y="271" width="4" height="2"/><rect x="340" y="271" width="4" height="2"/><rect x="362" y="271" width="4" height="2"/><rect x="384" y="271" width="4" height="2"/><rect x="406" y="271" width="4" height="2"/><rect x="427" y="271" width="4" height="2"/><rect x="449" y="271" width="4" height="2"/><rect x="471" y="271" width="4" height="2"/><rect x="493" y="271" width="3" height="2"/><rect x="514" y="271" width="4" height="2"/><rect x="536" y="271" width="4" height="2"/><rect x="558" y="271" width="4" height="2"/><rect x="580" y="271" width="3" height="2"/><rect x="601" y="271" width="4" height="2"/><rect x="623" y="271" width="4" height="2"/><rect x="645" y="271" width="4" height="2"/><rect x="666" y="271" width="4" height="2"/><rect x="688" y="271" width="4" height="2"/><rect x="710" y="271" width="4" height="2"/><rect x="732" y="271" width="4" height="2"/><rect x="753" y="271" width="4" height="2"/><rect x="775" y="271" width="4" height="2"/><rect x="797" y="271" width="4" height="2"/><rect x="819" y="271" width="4" height="2"/><rect x="840" y="271" width="4" height="2"/><rect x="862" y="271" width="4" height="2"/><rect x="884" y="271" width="4" height="2"/><rect x="906" y="271" width="3" height="2"/><rect x="927" y="271" width="4" height="2"/><rect x="949" y="271" width="4" height="2"/><rect x="971" y="271" width="4" height="2"/><rect x="993" y="271" width="3" height="2"/><rect x="1014" y="271" width="4" height="2"/><rect x="1036" y="271" width="4" height="2"/><rect x="1058" y="271" width="4" height="2"/><rect x="1079" y="271" width="4" height="2"/><rect x="1101" y="271" width="4" height="2"/><rect x="1123" y="271" width="4" height="2"/><rect x="1145" y="271" width="4" height="2"/><rect x="1166" y="271" width="4" height="2"/><rect x="1188" y="271" width="4" height="2"/><rect x="1210" y="271" width="4" height="2"/><rect x="1232" y="271" width="4" height="2"/><rect x="1253" y="271" width="4" height="2"/><rect x="1275" y="271" width="4" height="2"/><rect x="1297" y="271" width="4" height="2"/><rect x="1319" y="271" width="3" height="2"/><rect x="1340" y="271" width="4" height="2"/><rect x="1362" y="271" width="4" height="2"/><rect x="1384" y="271" width="4" height="2"/><rect x="1406" y="271" width="3" height="2"/><rect x="1427" y="271" width="4" height="2"/><rect x="1449" y="271" width="4" height="2"/><rect x="1471" y="271" width="4" height="2"/><rect x="1492" y="271" width="4" height="2"/><rect x="1514" y="271" width="4" height="2"/><rect x="1536" y="271" width="4" height="2"/><rect x="1558" y="271" width="4" height="2"/><rect x="1579" y="271" width="4" height="2"/><rect x="1601" y="271" width="4" height="2"/><rect x="1623" y="271" width="4" height="2"/><rect x="1645" y="271" width="4" height="2"/><rect x="1666" y="271" width="4" height="2"/><rect x="1688" y="271" width="4" height="2"/><rect x="1710" y="271" width="4" height="2"/><rect x="1732" y="271" width="3" height="2"/><rect x="1753" y="271" width="4" height="2"/></g>
<text x="551.14 592.88 633.51 672.87 712.90 749.72 774.53 830.65 869.33 905.05 923.38 959.01 975.90 1011.66 1037.58 1066.15 1083.06 1099.86 1123.40 1158.68 1181.90 1200.65 1238.23" y="1226.30" font-size="69.00" fill="#f00">Subharmonic oscillation</text>
<clipPath id="c"><rect x="189" y="60" width="1574" height="1250"/></clipPath>
<g clip-path="url(#c)" fill="none" stroke="#f0f" stroke-width="11.00">
<path d="M189.0,1012.3 L194.1,1014.2 L199.2,1016.0 L204.2,1017.9 L209.3,1019.8 L214.4,1021.6 L219.5,1023.4 L224.5,1025.2 L229.6,1027.0 L234.7,1028.8 L239.8,1030.6 L244.8,1032.4 L249.9,1034.1 L255.0,1035.8 L260.1,1037.6 L265.1,1039.3 L270.2,1041.0 L275.3,1042.7 L280.4,1044.3 L285.4,1046.0 L290.5,1047.6 L295.6,1049.2 L300.7,1050.9 L305.7,1052.5 L310.8,1054.0 L315.9,1055.6 L321.0,1057.2 L326.1,1058.7 L331.1,1060.2 L336.2,1061.8 L341.3,1063.3 L346.4,1064.7 L351.4,1066.2 L356.5,1067.7 L361.6,1069.1 L366.7,1070.6 L371.7,1072.0 L376.8,1073.4 L381.9,1074.8 L387.0,1076.1 L392.0,1077.5 L397.1,1078.8 L402.2,1080.2 L407.3,1081.5 L412.3,1082.8 L417.4,1084.1 L422.5,1085.4 L427.6,1086.6 L432.6,1087.9 L437.7,1089.1 L442.8,1090.3 L447.9,1091.5 L452.9,1092.7 L458.0,1093.9 L463.1,1095.1 L468.2,1096.2 L473.3,1097.3 L478.3,1098.4 L483.4,1099.5 L488.5,1100.6 L493.6,1101.7 L498.6,1102.8 L503.7,1103.8 L508.8,1104.8 L513.9,1105.9 L518.9,1106.9 L524.0,1107.8 L529.1,1108.8 L534.2,1109.8 L539.2,1110.7 L544.3,1111.6 L549.4,1112.5 L554.5,1113.4 L559.5,1114.3 L564.6,1115.2 L569.7,1116.0 L574.8,1116.8 L579.8,1117.7 L584.9,1118.5 L590.0,1119.3" stroke-dasharray="30.4 27.4" stroke-dashoffset="0.90"/>
<path d="M583.3,1118.2 L588.0,1119.0 L592.8,1119.7 L597.5,1120.4 L602.2,1121.1 L607.0,1121.8 L611.7,1122.4 L616.4,1123.1 L621.2,1123.7 L625.9,1124.4 L630.6,1125.0 L635.4,1125.6 L640.1,1126.2 L644.9,1126.7 L649.6,1127.3 L654.3,1127.9 L659.1,1128.4 L663.8,1128.9 L668.5,1129.4 L673.3,1129.9 L678.0,1130.4 L682.7,1130.8 L687.5,1131.3 L692.2,1131.7 L696.9,1132.1 L701.7,1132.5 L706.4,1132.9 L711.1,1133.3 L715.9,1133.6 L720.6,1134.0 L725.3,1134.3 L730.1,1134.6 L734.8,1134.9 L739.6,1135.2 L744.3,1135.5 L749.0,1135.7 L753.8,1136.0 L758.5,1136.2 L763.2,1136.4 L768.0,1136.6 L772.7,1136.8 L777.4,1136.9 L782.2,1137.1 L786.9,1137.2 L791.6,1137.3 L796.4,1137.4 L801.1,1137.5 L805.8,1137.6 L810.6,1137.6 L815.3,1137.7 L820.0,1137.7 L824.8,1137.7 L829.5,1137.7 L834.3,1137.6 L839.0,1137.6 L843.7,1137.5 L848.5,1137.5 L853.2,1137.4 L857.9,1137.3 L862.7,1137.1 L867.4,1137.0 L872.1,1136.8 L876.9,1136.6 L881.6,1136.4 L886.3,1136.2 L891.1,1136.0 L895.8,1135.7 L900.5,1135.5 L905.3,1135.2 L910.0,1134.9 L914.7,1134.6 L919.5,1134.2 L924.2,1133.9 L929.0,1133.5 L933.7,1133.1 L938.4,1132.7 L943.2,1132.3 L947.9,1131.8 L952.6,1131.3 L957.4,1130.8 L962.1,1130.3 L966.8,1129.8 L971.6,1129.3 L976.3,1128.7 L981.0,1128.1 L985.8,1127.5 L990.5,1126.9 L995.2,1126.2 L1000.0,1125.6 L1004.7,1124.9 L1009.4,1124.2 L1014.2,1123.4 L1018.9,1122.7 L1023.6,1121.9 L1028.4,1121.1 L1033.1,1120.3 L1037.9,1119.4 L1042.6,1118.6 L1047.3,1117.7 L1052.1,1116.8 L1056.8,1115.9 L1061.5,1114.9 L1066.3,1113.9 L1071.0,1112.9 L1075.7,1111.9 L1080.5,1110.9 L1085.2,1109.8 L1089.9,1108.7 L1094.7,1107.6 L1099.4,1106.4 L1104.1,1105.2 L1108.9,1104.0 L1113.6,1102.8 L1118.3,1101.6 L1123.1,1100.3 L1127.8,1099.0 L1132.6,1097.7 L1137.3,1096.3 L1142.0,1094.9 L1146.8,1093.5 L1151.5,1092.1 L1156.2,1090.6 L1161.0,1089.1 L1165.7,1087.6 L1170.4,1086.0 L1175.2,1084.4 L1179.9,1082.8 L1184.6,1081.2 L1189.4,1079.5 L1194.1,1077.8 L1198.8,1076.1 L1203.6,1074.3 L1208.3,1072.5 L1213.0,1070.7 L1217.8,1068.8 L1222.5,1066.9 L1227.3,1064.9 L1232.0,1063.0 L1236.7,1061.0 L1241.5,1058.9 L1246.2,1056.9 L1250.9,1054.7 L1255.7,1052.6 L1260.4,1050.4 L1265.1,1048.2 L1269.9,1045.9 L1274.6,1043.6 L1279.3,1041.3 L1284.1,1038.9 L1288.8,1036.5 L1293.5,1034.0 L1298.3,1031.5 L1303.0,1029.0 L1307.7,1026.4 L1312.5,1023.8 L1317.2,1021.1 L1322.0,1018.4 L1326.7,1015.6 L1331.4,1012.8 L1336.2,1010.0 L1340.9,1007.0 L1345.6,1004.1 L1350.4,1001.1 L1355.1,998.0 L1359.8,994.9 L1364.6,991.8 L1369.3,988.6 L1374.0,985.3 L1378.8,982.0 L1383.5,978.7 L1388.2,975.2 L1393.0,971.8 L1397.7,968.2 L1402.4,964.6 L1407.2,961.0 L1411.9,957.3 L1416.6,953.5 L1421.4,949.7 L1426.1,945.8 L1430.9,941.8 L1435.6,937.7 L1440.3,933.6 L1445.1,929.5 L1449.8,925.2 L1454.5,920.9 L1459.3,916.5 L1464.0,912.1 L1468.7,907.5 L1473.5,902.9 L1478.2,898.2 L1482.9,893.4 L1487.7,888.6 L1492.4,883.6 L1497.1,878.6 L1501.9,873.5 L1506.6,868.3 L1511.3,863.0 L1516.1,857.6 L1520.8,852.1 L1525.6,846.5 L1530.3,840.8 L1535.0,835.0 L1539.8,829.2 L1544.5,823.2 L1549.2,817.0 L1554.0,810.8 L1558.7,804.5 L1563.4,798.0 L1568.2,791.5 L1572.9,784.8 L1577.6,778.0 L1582.4,771.0 L1587.1,763.9 L1591.8,756.7 L1596.6,749.4 L1601.3,741.9 L1606.0,734.2 L1610.8,726.5 L1615.5,718.5 L1620.3,710.4 L1625.0,702.2 L1629.7,693.8 L1634.5,685.2 L1639.2,676.5 L1643.9,667.6 L1648.7,658.5 L1653.4,649.2 L1658.1,639.7 L1662.9,630.1 L1667.6,620.2 L1672.3,610.2 L1677.1,599.9 L1681.8,589.4 L1686.5,578.7 L1691.3,567.8 L1696.0,556.7 L1700.7,545.3 L1705.5,533.7 L1710.2,521.9 L1715.0,509.8 L1719.7,497.4 L1724.4,484.8 L1729.2,471.9 L1733.9,458.8 L1738.6,445.3 L1743.4,431.6 L1748.1,417.6 L1752.8,403.3 L1757.6,388.6 L1762.3,373.7" stroke-dasharray="30.4 27.47" stroke-dashoffset="0.90"/>
</g>
<g stroke="#00f" stroke-width="3.50" fill="none" stroke-linejoin="miter" stroke-miterlimit="10"><polygon points="568.60,1085.60 571.61,1094.86 581.34,1094.86 573.47,1100.58 576.48,1109.84 568.60,1104.12 560.72,1109.84 563.73,1100.58 555.86,1094.86 565.59,1094.86"/><polygon points="763.50,1083.30 766.51,1092.56 776.24,1092.56 768.37,1098.28 771.38,1107.54 763.50,1101.82 755.62,1107.54 758.63,1098.28 750.76,1092.56 760.49,1092.56"/><polygon points="967.00,1056.40 970.01,1065.66 979.74,1065.66 971.87,1071.38 974.88,1080.64 967.00,1074.92 959.12,1080.64 962.13,1071.38 954.26,1065.66 963.99,1065.66"/><polygon points="1166.60,990.20 1169.61,999.46 1179.34,999.46 1171.47,1005.18 1174.48,1014.44 1166.60,1008.72 1158.72,1014.44 1161.73,1005.18 1153.86,999.46 1163.59,999.46"/><polygon points="1364.10,863.85 1367.11,873.11 1376.84,873.11 1368.97,878.83 1371.98,888.09 1364.10,882.37 1356.22,888.09 1359.23,878.83 1351.36,873.11 1361.09,873.11"/><polygon points="1466.00,752.85 1469.01,762.11 1478.74,762.11 1470.87,767.83 1473.88,777.09 1466.00,771.37 1458.12,777.09 1461.13,767.83 1453.26,762.11 1462.99,762.11"/><polygon points="1564.00,612.00 1567.01,621.26 1576.74,621.26 1568.87,626.98 1571.88,636.24 1564.00,630.52 1556.12,636.24 1559.13,626.98 1551.26,621.26 1560.99,621.26"/><polygon points="1625.60,500.65 1628.61,509.91 1638.34,509.91 1630.47,515.63 1633.48,524.89 1625.60,519.17 1617.72,524.89 1620.73,515.63 1612.86,509.91 1622.59,509.91"/><polygon points="1665.70,417.80 1668.71,427.06 1678.44,427.06 1670.57,432.78 1673.58,442.04 1665.70,436.32 1657.82,442.04 1660.83,432.78 1652.96,427.06 1662.69,427.06"/><polygon points="1706.20,294.10 1709.21,303.36 1718.94,303.36 1711.07,309.08 1714.08,318.34 1706.20,312.62 1698.32,318.34 1701.33,309.08 1693.46,303.36 1703.19,303.36"/><polygon points="1731.20,211.30 1734.21,220.56 1743.94,220.56 1736.07,226.28 1739.08,235.54 1731.20,229.82 1723.32,235.54 1726.33,226.28 1718.46,220.56 1728.19,220.56"/></g>
<g stroke="#f0f" stroke-width="3.70" fill="none" stroke-linejoin="miter" stroke-miterlimit="10"><polygon points="552.00,1055.50 567.80,1082.87 536.20,1082.87"/><polygon points="753.80,1077.80 769.60,1105.17 738.00,1105.17"/><polygon points="955.00,1068.70 970.80,1096.07 939.20,1096.07"/><polygon points="1157.05,1029.00 1172.85,1056.37 1141.25,1056.37"/><polygon points="1358.90,921.80 1374.70,949.17 1343.10,949.17"/><polygon points="1459.60,832.80 1475.40,860.17 1443.80,860.17"/><polygon points="1560.00,696.20 1575.80,723.57 1544.20,723.57"/><polygon points="1620.70,584.90 1636.50,612.27 1604.90,612.27"/><polygon points="1661.20,502.30 1677.00,529.67 1645.40,529.67"/><polygon points="1701.50,399.00 1717.30,426.37 1685.70,426.37"/><polygon points="1726.40,275.00 1742.20,302.37 1710.60,302.37"/></g>
<path clip-path="url(#c)" fill="none" stroke="#f0f" stroke-width="11.00" d="M189.0,964.9 L194.3,967.2 L199.5,969.5 L204.8,971.7 L210.0,973.9 L215.3,976.2 L220.6,978.4 L225.8,980.5 L231.1,982.7 L236.4,984.8 L241.6,987.0 L246.9,989.1 L252.1,991.2 L257.4,993.3 L262.7,995.3 L267.9,997.4 L273.2,999.4 L278.5,1001.4 L283.7,1003.4 L289.0,1005.4 L294.2,1007.4 L299.5,1009.3 L304.8,1011.2 L310.0,1013.2 L315.3,1015.0 L320.5,1016.9 L325.8,1018.8 L331.1,1020.6 L336.3,1022.4 L341.6,1024.3 L346.9,1026.0 L352.1,1027.8 L357.4,1029.6 L362.6,1031.3 L367.9,1033.0 L373.2,1034.7 L378.4,1036.4 L383.7,1038.1 L389.0,1039.7 L394.2,1041.4 L399.5,1043.0 L404.7,1044.6 L410.0,1046.1 L415.3,1047.7 L420.5,1049.3 L425.8,1050.8 L431.0,1052.3 L436.3,1053.8 L441.6,1055.2 L446.8,1056.7 L452.1,1058.1 L457.4,1059.5 L462.6,1060.9 L467.9,1062.3 L473.1,1063.7 L478.4,1065.0 L483.7,1066.4 L488.9,1067.7 L494.2,1069.0 L499.5,1070.2 L504.7,1071.5 L510.0,1072.7 L515.2,1073.9 L520.5,1075.1 L525.8,1076.3 L531.0,1077.5 L536.3,1078.6 L541.5,1079.7 L546.8,1080.8 L552.1,1081.9 L557.3,1083.0 L562.6,1084.0 L567.9,1085.1 L573.1,1086.1 L578.4,1087.1 L583.6,1088.0 L588.9,1089.0 L594.2,1089.9 L599.4,1090.8 L604.7,1091.7 L609.9,1092.6 L615.2,1093.5 L620.5,1094.3 L625.7,1095.1 L631.0,1095.9 L636.3,1096.7 L641.5,1097.4 L646.8,1098.2 L652.0,1098.9 L657.3,1099.6 L662.6,1100.2 L667.8,1100.9 L673.1,1101.5 L678.4,1102.1 L683.6,1102.7 L688.9,1103.3 L694.1,1103.8 L699.4,1104.4 L704.7,1104.9 L709.9,1105.4 L715.2,1105.8 L720.4,1106.3 L725.7,1106.7 L731.0,1107.1 L736.2,1107.5 L741.5,1107.8 L746.8,1108.2 L752.0,1108.5 L757.3,1108.8 L762.5,1109.1 L767.8,1109.3 L773.1,1109.5 L778.3,1109.8 L783.6,1109.9 L788.9,1110.1 L794.1,1110.2 L799.4,1110.4 L804.6,1110.4 L809.9,1110.5 L815.2,1110.6 L820.4,1110.6 L825.7,1110.6 L830.9,1110.6 L836.2,1110.5 L841.5,1110.5 L846.7,1110.4 L852.0,1110.2 L857.3,1110.1 L862.5,1109.9 L867.8,1109.8 L873.0,1109.5 L878.3,1109.3 L883.6,1109.0 L888.8,1108.8 L894.1,1108.4 L899.4,1108.1 L904.6,1107.7 L909.9,1107.4 L915.1,1106.9 L920.4,1106.5 L925.7,1106.0 L930.9,1105.5 L936.2,1105.0 L941.4,1104.5 L946.7,1103.9 L952.0,1103.3 L957.2,1102.7 L962.5,1102.0 L967.8,1101.3 L973.0,1100.6 L978.3,1099.9 L983.5,1099.1 L988.8,1098.3 L994.1,1097.5 L999.3,1096.6 L1004.6,1095.7 L1009.9,1094.8 L1015.1,1093.9 L1020.4,1092.9 L1025.6,1091.9 L1030.9,1090.8 L1036.2,1089.8 L1041.4,1088.6 L1046.7,1087.5 L1051.9,1086.3 L1057.2,1085.1 L1062.5,1083.9 L1067.7,1082.6 L1073.0,1081.3 L1078.3,1080.0 L1083.5,1078.6 L1088.8,1077.2 L1094.0,1075.8 L1099.3,1074.3 L1104.6,1072.8 L1109.8,1071.2 L1115.1,1069.7 L1120.4,1068.0 L1125.6,1066.4 L1130.9,1064.7 L1136.1,1062.9 L1141.4,1061.1 L1146.7,1059.3 L1151.9,1057.5 L1157.2,1055.6 L1162.4,1053.6 L1167.7,1051.6 L1173.0,1049.6 L1178.2,1047.5 L1183.5,1045.4 L1188.8,1043.3 L1194.0,1041.1 L1199.3,1038.8 L1204.5,1036.5 L1209.8,1034.2 L1215.1,1031.8 L1220.3,1029.4 L1225.6,1026.9 L1230.9,1024.4 L1236.1,1021.8 L1241.4,1019.2 L1246.6,1016.5 L1251.9,1013.8 L1257.2,1011.0 L1262.4,1008.1 L1267.7,1005.2 L1272.9,1002.3 L1278.2,999.3 L1283.5,996.2 L1288.7,993.1 L1294.0,989.9 L1299.3,986.7 L1304.5,983.4 L1309.8,980.0 L1315.0,976.6 L1320.3,973.1 L1325.6,969.6 L1330.8,966.0 L1336.1,962.3 L1341.4,958.5 L1346.6,954.7 L1351.9,950.8 L1357.1,946.9 L1362.4,942.8 L1367.7,938.7 L1372.9,934.5 L1378.2,930.3 L1383.4,925.9 L1388.7,921.5 L1394.0,917.0 L1399.2,912.4 L1404.5,907.8 L1409.8,903.0 L1415.0,898.2 L1420.3,893.3 L1425.5,888.2 L1430.8,883.1 L1436.1,877.9 L1441.3,872.6 L1446.6,867.2 L1451.8,861.7 L1457.1,856.1 L1462.4,850.3 L1467.6,844.5 L1472.9,838.6 L1478.2,832.5 L1483.4,826.3 L1488.7,820.1 L1493.9,813.6 L1499.2,807.1 L1504.5,800.5 L1509.7,793.7 L1515.0,786.7 L1520.3,779.7 L1525.5,772.5 L1530.8,765.1 L1536.0,757.6 L1541.3,750.0 L1546.6,742.2 L1551.8,734.2 L1557.1,726.1 L1562.3,717.8 L1567.6,709.4 L1572.9,700.8 L1578.1,691.9 L1583.4,683.0 L1588.7,673.8 L1593.9,664.4 L1599.2,654.8 L1604.4,645.0 L1609.7,635.1 L1615.0,624.9 L1620.2,614.4 L1625.5,603.8 L1630.8,592.9 L1636.0,581.8 L1641.3,570.4 L1646.5,558.8 L1651.8,546.9 L1657.1,534.7 L1662.3,522.3 L1667.6,509.6 L1672.8,496.6 L1678.1,483.3 L1683.4,469.8 L1688.6,455.8 L1693.9,441.6 L1699.2,427.1 L1704.4,412.2 L1709.7,396.9 L1714.9,381.3 L1720.2,365.4 L1725.5,349.0 L1730.7,332.3 L1736.0,315.2 L1741.3,297.6 L1746.5,279.7 L1751.8,261.3 L1757.0,242.5 L1762.3,223.3"/>
<g font-size="78.00" fill="#000"><text x="350.20" y="1388.70" text-anchor="middle">0.1</text><text x="551.77" y="1388.70" text-anchor="middle">0.2</text><text x="753.34" y="1388.70" text-anchor="middle">0.3</text><text x="954.91" y="1388.70" text-anchor="middle">0.4</text><text x="1156.48" y="1388.70" text-anchor="middle">0.5</text><text x="1358.05" y="1388.70" text-anchor="middle">0.6</text><text x="1559.62" y="1388.70" text-anchor="middle">0.7</text><text x="174.50" y="1332.30" text-anchor="end">0</text><text x="174.50" y="1125.63" text-anchor="end">1</text><text x="174.50" y="918.97" text-anchor="end">2</text><text x="174.50" y="712.30" text-anchor="end">3</text><text x="174.50" y="505.63" text-anchor="end">4</text><text x="174.50" y="298.97" text-anchor="end">5</text><text x="174.50" y="92.30" text-anchor="end">6</text></g>
<text transform="translate(20.54,609.80) scale(1.0458,1)" font-size="80.15" font-style="italic" fill="#000">V</text>
<text transform="translate(69.78,622.50) scale(1.1420,1)" font-size="57.10" font-style="italic" fill="#000">M</text>
<text transform="translate(945.91,1463.54) scale(1.0242,1)" font-size="80.37" font-style="italic" fill="#000">D</text>
</svg></body></html>
